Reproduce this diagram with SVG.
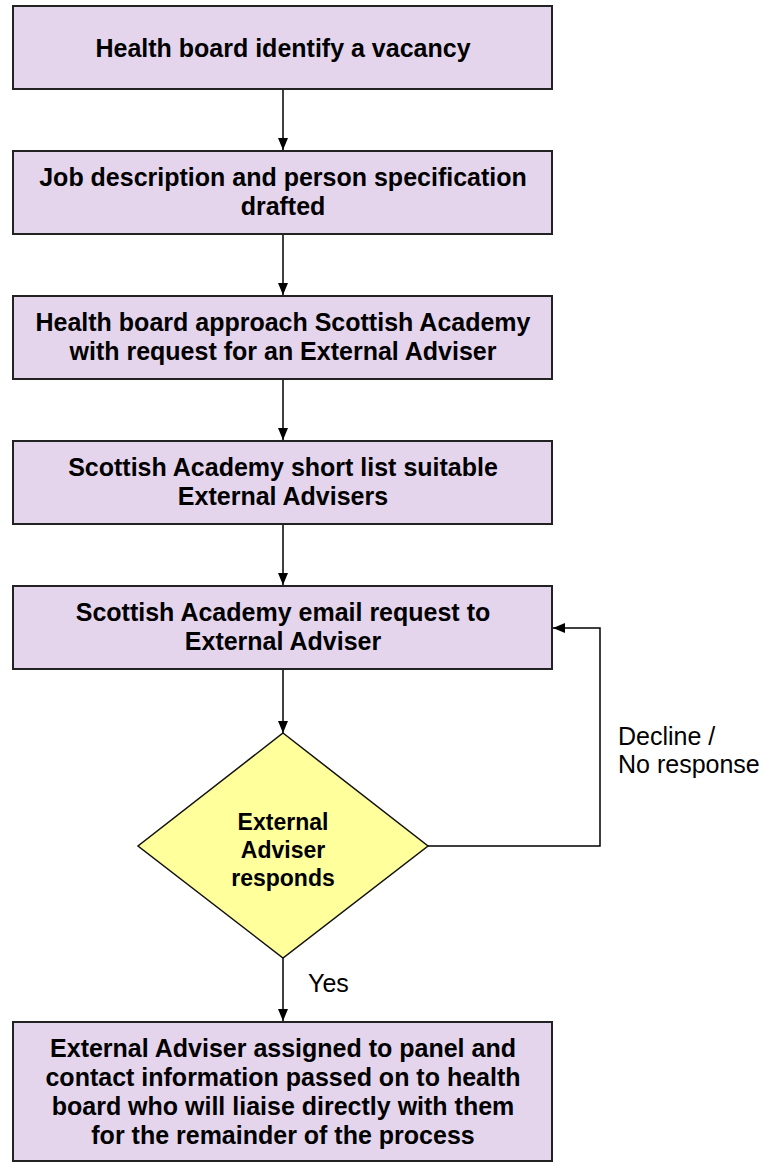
<svg xmlns="http://www.w3.org/2000/svg" width="763" height="1162" viewBox="0 0 763 1162">
<defs>
<marker id="ah" markerWidth="12" markerHeight="12" refX="12" refY="6" orient="auto" markerUnits="userSpaceOnUse" viewBox="0 0 12 12">
<path d="M0,1 L12,6 L0,11 Z" fill="#000"/>
</marker>
<style>
.box{fill:#E4D5EC;stroke:#222;stroke-width:2}
.dia{fill:#FFFF9C;stroke:#111;stroke-width:1.5}
.t{font-family:"Liberation Sans",Arial,sans-serif;font-weight:bold;font-size:25px;text-anchor:middle;fill:#000}
.d{font-family:"Liberation Sans",Arial,sans-serif;font-weight:bold;font-size:23px;text-anchor:middle;fill:#000}
.l{font-family:"Liberation Sans",Arial,sans-serif;font-size:25px;fill:#000}
.c{fill:none;stroke:#000;stroke-width:1.5}
</style>
</defs>
<rect width="763" height="1162" fill="#fff"/>
<g id="connectors">
<line class="c" x1="283" y1="90" x2="283" y2="150" marker-end="url(#ah)"/>
<line class="c" x1="283" y1="235" x2="283" y2="295" marker-end="url(#ah)"/>
<line class="c" x1="283" y1="380" x2="283" y2="440" marker-end="url(#ah)"/>
<line class="c" x1="283" y1="525" x2="283" y2="585" marker-end="url(#ah)"/>
<line class="c" x1="283" y1="670" x2="283" y2="733" marker-end="url(#ah)"/>
<polyline class="c" points="428,846 600,846 600,628 553,628" marker-end="url(#ah)"/>
<line class="c" x1="283" y1="958" x2="283" y2="1021" marker-end="url(#ah)"/>
<text class="l" x="618" y="745">Decline /</text>
<text class="l" x="618" y="773">No response</text>
<text class="l" x="308" y="992">Yes</text>
</g>
<g id="n1">
<rect class="box" x="13" y="6" width="539" height="83"/>
<text class="t" x="283" y="57">Health board identify a vacancy</text>
</g>
<g id="n2">
<rect class="box" x="13" y="151" width="539" height="83"/>
<text class="t" x="283" y="186">Job description and person specification</text>
<text class="t" x="283" y="215">drafted</text>
</g>
<g id="n3">
<rect class="box" x="13" y="296" width="539" height="83"/>
<text class="t" x="283" y="331">Health board approach Scottish Academy</text>
<text class="t" x="283" y="360">with request for an External Adviser</text>
</g>
<g id="n4">
<rect class="box" x="13" y="441" width="539" height="83"/>
<text class="t" x="283" y="476">Scottish Academy short list suitable</text>
<text class="t" x="283" y="505">External Advisers</text>
</g>
<g id="n5">
<rect class="box" x="13" y="586" width="539" height="83"/>
<text class="t" x="283" y="621">Scottish Academy email request to</text>
<text class="t" x="283" y="650">External Adviser</text>
</g>
<g id="n6">
<polygon class="dia" points="283,733 428,846 283,958 138,846"/>
<text class="d" x="283" y="830">External</text>
<text class="d" x="283" y="858">Adviser</text>
<text class="d" x="283" y="886">responds</text>
</g>
<g id="n7">
<rect class="box" x="13" y="1022" width="539" height="139"/>
<text class="t" x="283" y="1057">External Adviser assigned to panel and</text>
<text class="t" x="283" y="1086">contact information passed on to health</text>
<text class="t" x="283" y="1115">board who will liaise directly with them</text>
<text class="t" x="283" y="1144">for the remainder of the process</text>
</g>
</svg>
